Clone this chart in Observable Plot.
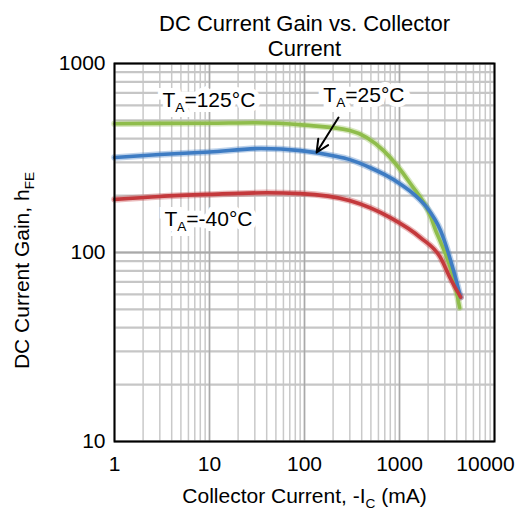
<!DOCTYPE html>
<html>
<head>
<meta charset="utf-8">
<script src="https://cdn.jsdelivr.net/npm/d3@7"></script>
<script src="https://cdn.jsdelivr.net/npm/@observablehq/plot@0.6"></script>
<style>
  html, body { margin: 0; padding: 0; background: #fff; }
  svg { display: block; }
</style>
</head>
<body>
<div id="chart"></div>
<script>
// ---- data (collector current in mA, DC current gain hFE) ----
const current125C = [1, 3, 10, 30, 100, 300, 680, 1300, 2130, 2400, 2700, 3200, 3700, 4300];
const gain125C    = [480, 482, 483, 486, 472, 442, 346, 232, 155, 131, 114, 92, 73, 51];
const current25C  = [1, 3, 10, 35, 91, 200, 300, 500, 700, 1000, 1475, 1960, 2700, 3960, 4400];
const gain25C     = [318, 330, 340, 355, 346, 325, 310, 280, 258, 232, 200, 172, 131, 71, 58];
const currentM40C = [1, 3, 10, 40, 91, 303, 800, 1660, 2700, 3430, 4400];
const gainM40C    = [191, 198, 203, 207, 205, 188, 153, 120, 94, 73, 58];

const seriesNames = ["125°C", "25°C", "-40°C"];
const xTicks = [1, 10, 100, 1000, 10000];
const yTicks = [10, 100, 1000];

const titleText = "DC Current Gain vs. Collector\nCurrent";
const xLabel = "Collector Current, -I_{C} (mA)";
const yLabel = "DC Current Gain, h_{FE}";

const labelText = ["T_{A}=125°C", "T_{A}=25°C", "T_{A}=-40°C"];
const labelX = [3.2, 158, 3.35];
const labelY = [640, 675, 150];

const arrowFrom = [228, 518];
const arrowTo = [134, 338];

// ---- build tables ----
const colors = {"125°C": "#8fbd4b", "25°C": "#3e7cc3", "-40°C": "#c4393c"};
const xs = [current125C, current25C, currentM40C];
const ys = [gain125C, gain25C, gainM40C];
const rows = seriesNames.flatMap((s, k) => xs[k].map((x, i) => ({series: s, x, y: ys[k][i]})));
const labels = labelText.map((t, i) => ({text: t, x: labelX[i], y: labelY[i]}));
const arrows = [{x1: arrowFrom[0], y1: arrowFrom[1], x2: arrowTo[0], y2: arrowTo[1]}];

const minorX = d3.scaleLog().domain([1, 10000]).ticks();
const minorY = d3.scaleLog().domain([10, 1000]).ticks();

const font = "'Liberation Sans', Arial, Helvetica, sans-serif";
const labelOpts = {x: "x", y: "y", text: "text", textAnchor: "start", lineAnchor: "middle", fontSize: 21};

const chart = Plot.plot({
  width: 524,
  height: 511,
  marginTop: 63,
  marginBottom: 70,
  marginLeft: 114,
  marginRight: 30,
  style: {fontFamily: font, background: "white", color: "black"},
  x: {type: "log", domain: [1, 10000], axis: null},
  y: {type: "log", domain: [10, 1000], axis: null},
  color: {domain: seriesNames, range: seriesNames.map(s => colors[s])},
  marks: [
    Plot.gridX(minorX, {stroke: "#c9c9c9", strokeOpacity: 1, strokeWidth: 1.5}),
    Plot.gridY(minorY, {stroke: "#c6c6c6", strokeOpacity: 1, strokeWidth: 2.2}),
    Plot.gridX(xTicks, {stroke: "#a9a9a9", strokeOpacity: 1, strokeWidth: 1.5}),
    Plot.gridY(yTicks, {stroke: "#a9a9a9", strokeOpacity: 1, strokeWidth: 2.2}),
    Plot.line(rows, {x: "x", y: "y", z: "series", stroke: "series", strokeWidth: 6.5, strokeOpacity: 0.35, curve: "monotone-x"}),
    Plot.line(rows, {x: "x", y: "y", z: "series", stroke: "series", strokeWidth: 3.6, curve: "monotone-x"}),
    Plot.arrow(arrows, {x1: "x1", y1: "y1", x2: "x2", y2: "y2", stroke: "black", strokeWidth: 2, headLength: 11, headAngle: 50}),
    Plot.text(labels, {...labelOpts, fill: "white", stroke: "white", strokeWidth: 10, strokeLinejoin: "miter"}),
    Plot.text(labels, {...labelOpts, fill: "black"}),
    Plot.frame({stroke: "black", strokeWidth: 2}),
    Plot.axisX(xTicks.slice(0, -1), {tickSize: 0, tickPadding: 15, fontSize: 21, tickFormat: d => String(d), label: null}),
    Plot.axisX(xTicks.slice(-1), {tickSize: 0, tickPadding: 15, fontSize: 21, dx: -9, tickFormat: d => String(d), label: null}),
    Plot.axisY(yTicks, {tickSize: 0, tickPadding: 9, fontSize: 21, tickFormat: d => String(d), label: null}),
    Plot.text([titleText], {frameAnchor: "top", text: d => d, textAnchor: "middle", lineAnchor: "top", dy: -50, fontSize: 22, lineHeight: 1.13}),
    Plot.text([xLabel], {frameAnchor: "bottom", text: d => d, textAnchor: "middle", lineAnchor: "middle", dy: 55, fontSize: 21}),
    Plot.text([yLabel], {frameAnchor: "left", text: d => d, textAnchor: "middle", lineAnchor: "middle", rotate: -90, dx: -92, dy: 18, fontSize: 21})
  ]
});

// subscripts: "_{...}" -> smaller, lowered tspan
d3.select(chart).selectAll("text").each(function() {
  const el = d3.select(this);
  if (el.selectAll("tspan").size() > 0) return;
  const t = el.text();
  if (!t.includes("_{")) return;
  el.text(null);
  const parts = t.split(/(_\{[^}]*\})/).filter(p => p.length);
  let pending = 0;
  for (const p of parts) {
    const m = p.match(/^_\{(.*)\}$/);
    if (m) {
      el.append("tspan").attr("font-size", "65%").attr("dy", 5).text(m[1]);
      pending = -5;
    } else {
      const ts = el.append("tspan").text(p);
      if (pending) { ts.attr("dy", pending); pending = 0; }
    }
  }
});

document.getElementById("chart").appendChild(chart);
</script>
</body>
</html>
